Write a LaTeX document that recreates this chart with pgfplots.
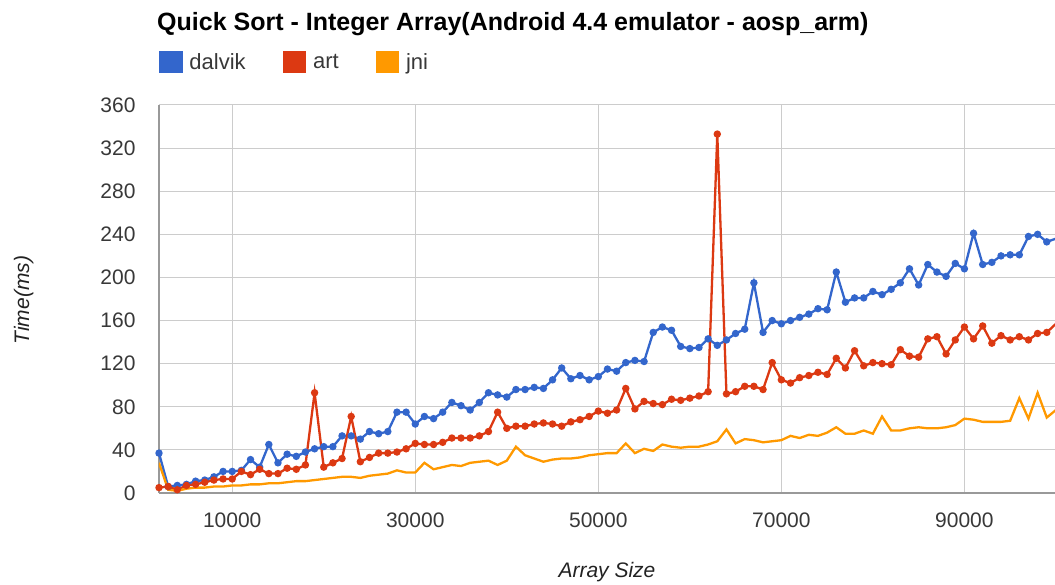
\documentclass[border=0pt]{standalone}
\usepackage{pgfplots}
\usepackage{pgfplotstable}
\pgfplotsset{compat=1.18}
\usepackage{fontspec}
\setmainfont{Liberation Sans}
\definecolor{dalvik}{HTML}{3366CC}
\definecolor{art}{HTML}{DC3912}
\definecolor{jni}{HTML}{FF9900}
\definecolor{gridc}{HTML}{CCCCCC}
\definecolor{txt}{HTML}{222222}
\pgfplotstableread{
x d a j
2000 37 5 28
3000 6 6 3
4000 7 3 2
5000 8 7 4
6000 11 8 5
7000 12 10 5
8000 15 12 6
9000 20 13 6
10000 20 13 7
11000 21 20 7
12000 31 17 8
13000 24 22 8
14000 45 18 9
15000 28 18 9
16000 36 23 10
17000 34 22 11
18000 38 26 11
19000 41 93 12
20000 43 24 13
21000 43 28 14
22000 53 32 15
23000 53 71 15
24000 50 29 14
25000 57 33 16
26000 55 37 17
27000 57 37 18
28000 75 38 21
29000 75 41 19
30000 64 46 19
31000 71 45 28
32000 69 45 22
33000 75 47 24
34000 84 51 26
35000 81 51 25
36000 77 51 28
37000 84 53 29
38000 93 57 30
39000 91 75 26
40000 89 60 30
41000 96 62 43
42000 96 62 35
43000 98 64 32
44000 97 65 29
45000 105 64 31
46000 116 62 32
47000 106 66 32
48000 109 68 33
49000 105 71 35
50000 108 76 36
51000 115 74 37
52000 113 77 37
53000 121 97 46
54000 123 78 37
55000 122 85 41
56000 149 83 39
57000 154 82 45
58000 151 87 43
59000 136 86 42
60000 134 88 43
61000 135 90 43
62000 143 94 45
63000 137 333 48
64000 142 92 59
65000 148 94 46
66000 152 99 50
67000 195 99 49
68000 149 96 47
69000 160 121 48
70000 157 105 49
71000 160 102 53
72000 163 107 51
73000 166 109 54
74000 171 112 53
75000 170 110 56
76000 205 125 61
77000 177 116 55
78000 181 132 55
79000 181 118 58
80000 187 121 55
81000 184 120 71
82000 189 119 58
83000 195 133 58
84000 208 127 60
85000 193 126 61
86000 212 143 60
87000 205 145 60
88000 201 129 61
89000 213 142 63
90000 208 154 69
91000 241 143 68
92000 212 155 66
93000 214 139 66
94000 220 146 66
95000 221 142 67
96000 221 145 88
97000 238 142 69
98000 240 148 93
99000 233 149 70
100000 236 157 77
}\data
\begin{document}
\begin{tikzpicture}[x=1pt,y=1pt]
\useasboundingbox (0,0) rectangle (1055,585);
\node[anchor=west, inner sep=0, font=\fontsize{25}{29}\selectfont\bfseries, text=black] at (157,561) {Quick Sort - Integer Array(Android 4.4 emulator - aosp\_arm)};
\begin{axis}[
  at={(159pt,92pt)}, anchor=south west,
  scale only axis, width=896pt, height=388pt,
  xmin=2000, xmax=99900, ymin=0, ymax=360,
  xtick={10000,30000,50000,70000,90000},
  ytick={0,40,...,360},
  scaled x ticks=false,
  xticklabel style={/pgf/number format/fixed, /pgf/number format/1000 sep={}, yshift=-16pt},
  /pgf/number format/assume math mode=true,
  tick label style={font=\fontsize{21}{24}\selectfont, text=txt!90!white},
  yticklabel style={xshift=-20pt},
  major tick length=0pt,
  axis x line*=bottom, axis y line*=left,
  axis line style={-, draw=gray!80, line width=1.2pt},
  grid=major, grid style={draw=gridc, line width=1pt},
  clip=true,
  xlabel={Array Size}, ylabel={Time(ms)},
  every axis x label/.style={at={(axis description cs:0.5,-0.204)}, anchor=center, font=\fontsize{21}{24}\selectfont\itshape, text=txt},
  every axis y label/.style={at={(axis description cs:-0.151,0.497)}, anchor=center, rotate=90, font=\fontsize{21}{24}\selectfont\itshape, text=txt},
  legend columns=3,
  legend style={at={(axis description cs:0,1.111)}, anchor=west, draw=none, fill=none, inner sep=0pt,
    font=\fontsize{22}{25}\selectfont, text=txt!90!white,
    /tikz/every odd column/.append style={column sep=7pt},
    /tikz/every even column/.append style={column sep=37pt},
    nodes={inner sep=0pt}},
  legend image code/.code={\fill[#1] (0pt,-10pt) rectangle (21pt,10pt);},
]
\addplot[color=dalvik, line width=2.3pt, mark=*, mark size=2.5pt, mark options={solid}] table[x=x, y=d] {\data};
\addlegendentry{dalvik}
\addplot[color=art, line width=2.3pt, mark=*, mark size=2.5pt, mark options={solid}] table[x=x, y=a] {\data};
\addlegendentry{art}
\addplot[color=jni, line width=2.3pt] table[x=x, y=j] {\data};
\addlegendentry{jni}
\end{axis}
\end{tikzpicture}
\end{document}
